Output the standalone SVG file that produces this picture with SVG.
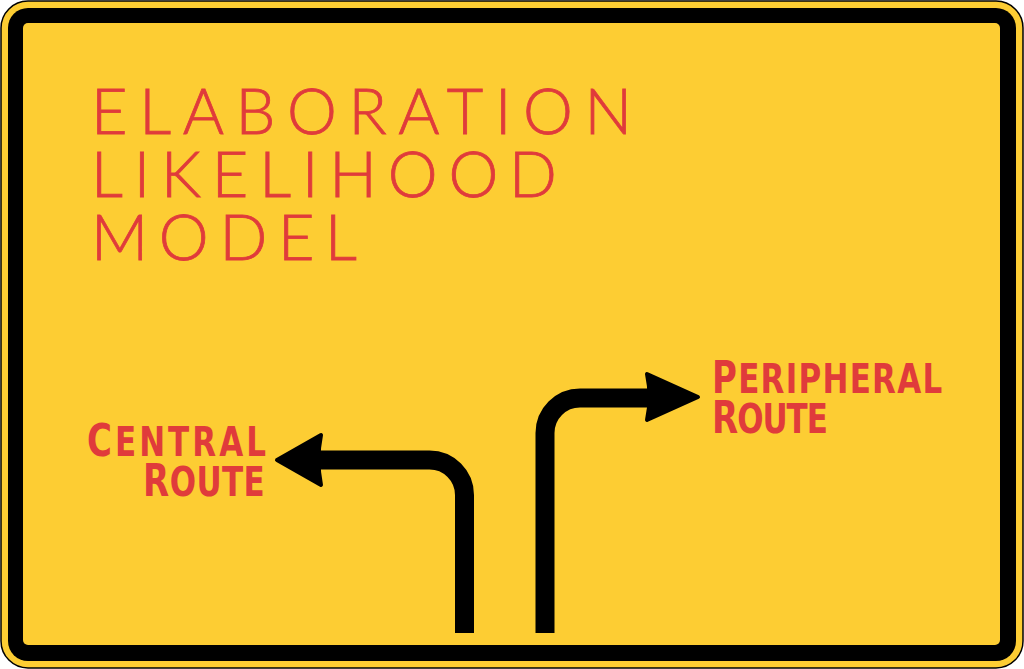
<svg xmlns="http://www.w3.org/2000/svg" width="1024" height="669" viewBox="0 0 1024 669">
<style>
.title{font-family:Lato,"Open Sans",sans-serif;font-weight:300;font-size:63px;fill:#E03B3B;stroke:#E03B3B;stroke-width:0.8}
.lbl{font-family:"DejaVu Sans Condensed","DejaVu Sans",sans-serif;font-weight:bold;fill:#E03B3B}
.big{font-size:45px}
.sm{font-size:41px}
.shaft{fill:none;stroke:#000;stroke-width:19}
.head{fill:#000;stroke:#000;stroke-width:4;stroke-linejoin:round}
</style>
<g id="sign">
<rect x="1" y="1" width="1022" height="667" rx="27" fill="#FDCD33" stroke="#000" stroke-width="1.5"/>
<rect x="8" y="8" width="1008" height="653" rx="20" fill="#000"/>
<rect x="23" y="23" width="977" height="622" rx="5" fill="#FDCD33"/>
</g>
<g id="title">
<text class="title" x="91" y="134" textLength="541" lengthAdjust="spacing">ELABORATION</text>
<text class="title" x="91" y="197" textLength="466" lengthAdjust="spacing">LIKELIHOOD</text>
<text class="title" x="91" y="260" textLength="266" lengthAdjust="spacing">MODEL</text>
</g>
<g id="connectors">
<path class="shaft" d="M464.5,633 V495 A35,35 0 0 0 429.5,460 H316"/>
<path class="head" d="M277,460 L321,435 Q316,460 321,485 Z"/>
<path class="shaft" d="M545,633 V433 A35,35 0 0 1 580,398 H650"/>
<path class="head" d="M698,397 L647,374 Q652,397 647,420 Z"/>
</g>
<g id="central">
<g transform="translate(87,456) scale(0.84,1)"><text class="lbl" x="0" y="0" textLength="213" lengthAdjust="spacing"><tspan class="big">C</tspan><tspan class="sm">ENTRAL</tspan></text></g>
<g transform="translate(143,496) scale(0.84,1)"><text class="lbl" x="0" y="0" textLength="145" lengthAdjust="spacing"><tspan class="big">R</tspan><tspan class="sm">OUTE</tspan></text></g>
</g>
<g id="peripheral">
<g transform="translate(712,393) scale(0.84,1)"><text class="lbl" x="0" y="0" textLength="274" lengthAdjust="spacing"><tspan class="big">P</tspan><tspan class="sm">ERIPHERAL</tspan></text></g>
<g transform="translate(712,433) scale(0.84,1)"><text class="lbl" x="0" y="0" textLength="138" lengthAdjust="spacing"><tspan class="big">R</tspan><tspan class="sm">OUTE</tspan></text></g>
</g>
</svg>
